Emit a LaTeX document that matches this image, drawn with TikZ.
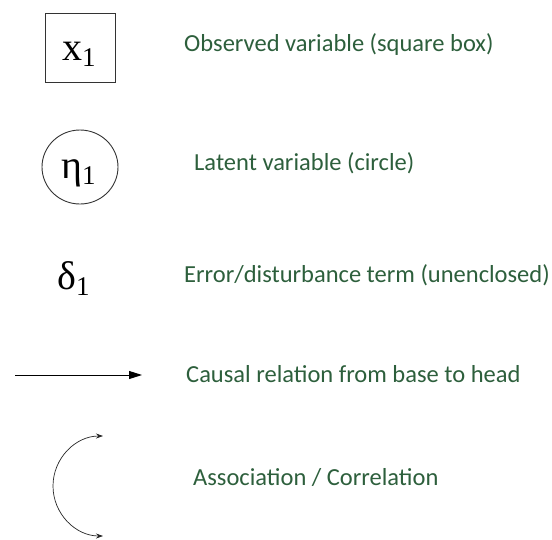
\documentclass[tikz,border=0pt]{standalone}
\usepackage{fontspec}
\usetikzlibrary{arrows.meta,shapes.geometric}
\setmainfont{Carlito}
\newfontfamily\symfont{Liberation Serif}
\definecolor{lblgreen}{HTML}{2D5F3C}
\newcommand{\symtxt}[2]{{\symfont\fontsize{40}{42}\selectfont #1\raisebox{-6pt}{\fontsize{27}{28}\selectfont #2}}}
\begin{document}
\begin{tikzpicture}[x=1pt,y=-1pt,
  lbl/.style={anchor=base west,inner sep=0pt,text=lblgreen,font=\fontsize{24.5}{26}\selectfont},
  sym/.style={inner sep=0pt,anchor=base west},
  conn/.style={line width=0.9pt,black}]
\useasboundingbox (0,0) rectangle (552,539);
% observed variable
\node[draw=black!80,line width=0.9pt,minimum width=70pt,minimum height=69pt,inner sep=0pt] (obs) at (80,47.5) {};
\node[sym] (x1) at (62,60) {\symtxt{x}{1}};
\node[lbl] (tobs) at (184,51) {Observed variable (square box)};
% latent variable
\node[draw=black!80,line width=0.9pt,ellipse,minimum width=76pt,minimum height=74pt,inner sep=0pt] (lat) at (80,167) {};
\node[sym] (eta) at (61,178) {\symtxt{η}{1}};
\node[lbl] (tlat) at (194,170) {Latent variable (circle)};
% error term
\node[sym] (del) at (57,289) {\symtxt{δ}{1}};
\node[lbl] (terr) at (184,282) {Error/disturbance term (unenclosed)};
% causal
\coordinate (cA) at (15,375);
\coordinate (cB) at (142,375);
\draw[conn,-{Triangle[length=13pt,width=8pt]}] (cA) -- (cB);
\node[lbl] (tcau) at (186,382) {Causal relation from base to head};
% association
\coordinate (aA) at (103,436);
\coordinate (aB) at (103,536);
\draw[line width=0.7pt,black!85,{Stealth[length=7pt,width=5pt]}-{Stealth[length=7pt,width=5pt]}] (aA) arc[start angle=270,end angle=90,radius=50];
\node[lbl] (tass) at (193,485) {Association / Correlation};
\end{tikzpicture}
\end{document}
